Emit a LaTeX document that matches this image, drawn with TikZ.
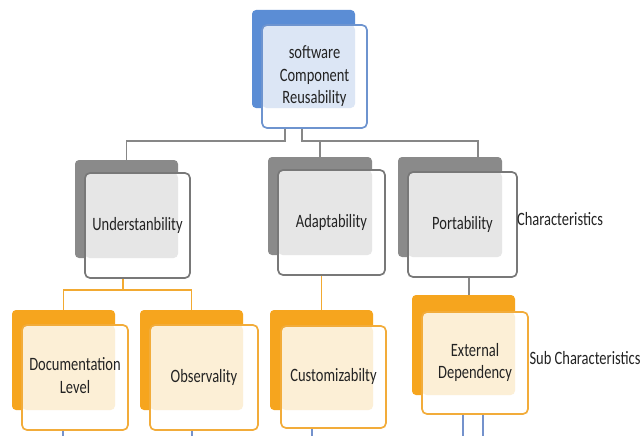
\documentclass[tikz,border=0pt]{standalone}
\usepackage{fontspec}
\setmainfont{Carlito}
\usetikzlibrary{calc}
\definecolor{bDark}{RGB}{91,141,213}
\definecolor{bLine}{RGB}{110,148,207}
\definecolor{bIn}{RGB}{220,230,245}
\definecolor{gDark}{RGB}{138,138,138}
\definecolor{gLine}{RGB}{120,120,120}
\definecolor{gIn}{RGB}{230,230,230}
\definecolor{oDark}{RGB}{246,165,30}
\definecolor{oLine}{RGB}{242,172,58}
\definecolor{oIn}{RGB}{252,239,214}
\definecolor{txt}{RGB}{35,35,35}
\definecolor{conG}{RGB}{135,135,135}
\definecolor{conO}{RGB}{242,170,50}
\definecolor{conB}{RGB}{116,146,204}
\newcommand{\vt}[1]{\scalebox{1}[1.3]{\begin{tabular}{@{}c@{}}#1\end{tabular}}}
\tikzset{
  backbox/.style={rectangle, rounded corners=4pt, inner sep=0pt},
  frontbox/.style={rectangle, rounded corners=5pt, inner sep=0pt, line width=1.7pt, fill=white, text=txt, font=\fontsize{14.5}{17.5}\selectfont},
  inner/.style 2 args={path picture={\fill[#1] (path picture bounding box.north west) rectangle (#2.south east);}},
  lbl/.style={text=txt, font=\fontsize{14.5}{17.5}\selectfont, inner sep=0pt},
  gconn/.style={draw=conG, line width=1.8pt},
  oconn/.style={draw=conO, line width=1.8pt},
  bconn/.style={draw=conB, line width=1.8pt},
}
\begin{document}
\begin{tikzpicture}[x=1pt,y=-1pt]
\useasboundingbox[fill=white] (0,0) rectangle (643,436);

% ---- top (blue)
\node[backbox, fill=bDark, minimum width=103pt, minimum height=98pt] (topB) at (303.5,59) {};
\node[frontbox, draw=bLine, inner={bIn}{topB}, minimum width=105pt, minimum height=103pt] (topF) at (314.5,76.5) {\vt{software\\Component\\Reusability}};

% ---- characteristics (grey)
\node[backbox, fill=gDark, minimum width=103pt, minimum height=98pt] (ubB) at (126.5,209) {};
\node[frontbox, draw=gLine, inner={gIn}{ubB}, minimum width=105pt, minimum height=105pt] (ubF) at (137.5,225.5) {\vt{Understanbility}};

\node[backbox, fill=gDark, minimum width=104pt, minimum height=98pt] (adB) at (320,206) {};
\node[frontbox, draw=gLine, inner={gIn}{adB}, minimum width=107pt, minimum height=105pt] (adF) at (331.5,222.5) {\vt{Adaptability}};

\node[backbox, fill=gDark, minimum width=104pt, minimum height=100pt] (ptB) at (450,207) {};
\node[frontbox, draw=gLine, inner={gIn}{ptB}, minimum width=109pt, minimum height=105pt] (ptF) at (462.5,224.5) {\vt{Portability}};

% ---- sub characteristics (orange)
\node[backbox, fill=oDark, minimum width=103pt, minimum height=100pt] (dlB) at (63.5,360) {};
\node[frontbox, draw=oLine, inner={oIn}{dlB}, minimum width=106pt, minimum height=105pt] (dlF) at (75,377.5) {\vt{Documentation\\Level}};

\node[backbox, fill=oDark, minimum width=103pt, minimum height=100pt] (obB) at (191.5,360) {};
\node[frontbox, draw=oLine, inner={oIn}{obB}, minimum width=108pt, minimum height=105pt] (obF) at (204,377.5) {\vt{Observality}};

\node[backbox, fill=oDark, minimum width=103pt, minimum height=100pt] (cuB) at (321.5,360) {};
\node[frontbox, draw=oLine, inner={oIn}{cuB}, minimum width=105pt, minimum height=102pt] (cuF) at (333.5,377) {\vt{Customizabilty}};

\node[backbox, fill=oDark, minimum width=103pt, minimum height=100pt] (edB) at (463.5,345) {};
\node[frontbox, draw=oLine, inner={oIn}{edB}, minimum width=106pt, minimum height=102pt] (edF) at (475,363) {\vt{External\\Dependency}};

% ---- side labels
\node[lbl] (chl) at (560,221) {\vt{Characteristics}};
\node[lbl] (scl) at (585,360) {\vt{Sub Characteristics}};

% ---- grey connectors
\coordinate (j1) at (285,141);
\coordinate (j2) at (302,141);
\coordinate (p1) at (478,141);
\draw[gconn] (topF.south -| j1) -- (j1) -| (ubB.north);
\draw[gconn] (topF.south -| j2) -- (j2) -- (p1) -- (p1 |- ptB.north);
\draw[gconn] (adB.north |- j2) -- (adB.north);
\coordinate (q1) at (469,286);
\draw[gconn] (ptF.south -| q1) -- (q1 |- edB.north);

% ---- orange connectors
\coordinate (k1) at (123,290);
\draw[oconn] (ubF.south -| k1) -- (k1);
\draw[oconn] (dlB.north) |- (k1) -| (obB.north);
\draw[oconn] (adF.south -| cuB.north) -- (cuB.north);

% ---- blue lines at the bottom
\coordinate (e1) at (63,436);
\coordinate (e2) at (192,436);
\coordinate (e3) at (312,436);
\coordinate (e4) at (463,436);
\coordinate (e5) at (483,436);
\draw[bconn] (dlF.south -| e1) -- (e1);
\draw[bconn] (obF.south -| e2) -- (e2);
\draw[bconn] (cuF.south -| e3) -- (e3);
\draw[bconn] (edF.south -| e4) -- (e4);
\draw[bconn] (edF.south -| e5) -- (e5);
\end{tikzpicture}
\end{document}
